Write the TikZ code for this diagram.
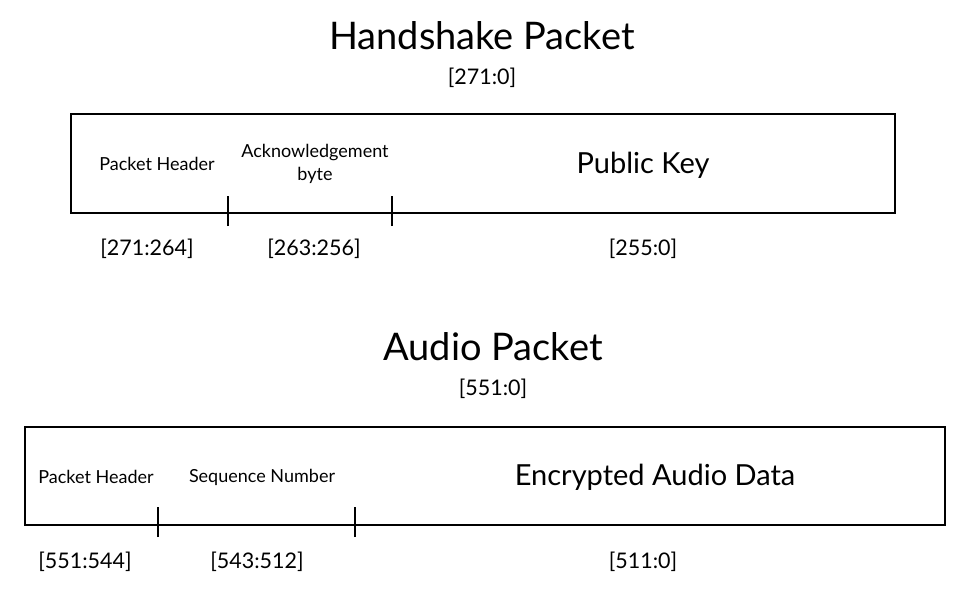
\documentclass[tikz,border=0pt]{standalone}
\usepackage{fontspec}
\setmainfont{Lato}
\begin{document}
\begin{tikzpicture}[x=1pt,y=-1pt,
  pkbox/.style={draw,line width=1.8pt,inner sep=0pt},
  tickline/.style={line width=2.8pt},
  titletext/.style={font=\fontsize{38}{44}\selectfont},
  bitrange/.style={font=\fontsize{21.5}{25}\selectfont},
  fieldtext/.style={font=\fontsize{18}{23}\selectfont,align=center},
  bigfield/.style={font=\fontsize{29}{34}\selectfont}]
\useasboundingbox (0,0) rectangle (978,590);
% Handshake packet
\node[titletext] (t1) at (482,36) {Handshake Packet};
\node[bitrange] (r1) at (482,78) {[271:0]};
\node[pkbox,minimum width=824pt,minimum height=99pt] (b1) at (483,163.5) {};
\coordinate (k1) at (228,213);
\coordinate (k2) at (392,213);
\draw[tickline] ([yshift=-13pt]k1) -- ([yshift=17pt]k1);
\draw[tickline] ([yshift=-13pt]k2) -- ([yshift=17pt]k2);
\node[fieldtext] (f1) at (157,164) {Packet Header};
\node[fieldtext] (f2) at (315,164) {Acknowledgement\\byte};
\node[bigfield] (f3) at (643,165) {Public Key};
\node[bitrange] (a1) at (147,249) {[271:264]};
\node[bitrange] (a2) at (314,249) {[263:256]};
\node[bitrange] (a3) at (643,249) {[255:0]};
% Audio packet
\node[titletext] (t2) at (493,347) {Audio Packet};
\node[bitrange] (r2) at (493,389) {[551:0]};
\node[pkbox,minimum width=920pt,minimum height=98pt] (b2) at (485,476) {};
\coordinate (k3) at (158,525);
\coordinate (k4) at (355,525);
\draw[tickline] ([yshift=-12pt]k3) -- ([yshift=18pt]k3);
\draw[tickline] ([yshift=-12pt]k4) -- ([yshift=18pt]k4);
\node[fieldtext] (g1) at (96,477) {Packet Header};
\node[fieldtext] (g2) at (262,477) {Sequence Number};
\node[bigfield] (g3) at (655,477) {Encrypted Audio Data};
\node[bitrange] (c1) at (85,562) {[551:544]};
\node[bitrange] (c2) at (257,562) {[543:512]};
\node[bitrange] (c3) at (643,562) {[511:0]};
\end{tikzpicture}
\end{document}
